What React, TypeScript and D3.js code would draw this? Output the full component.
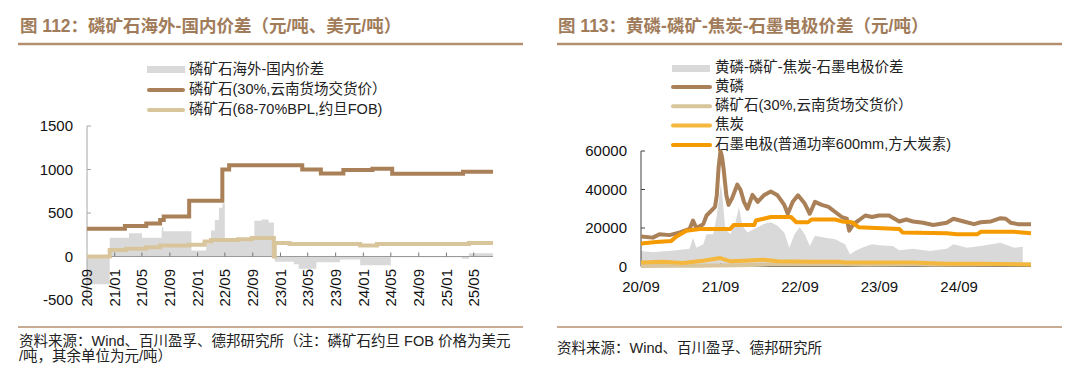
import React from "react";
import * as d3 from "d3";

type P = [string, number];

// ---------- Left chart data (图112) ----------
const leftDomestic: P[] = [
  ["2020-09-01", 320], ["2021-02-15", 350], ["2021-05-20", 380], ["2021-07-20", 420],
  ["2021-08-05", 460], ["2021-11-25", 640], ["2022-04-20", 1000], ["2022-05-20", 1050],
  ["2023-04-07", 1000], ["2023-06-28", 955], ["2023-10-05", 995], ["2024-02-10", 1010],
  ["2024-05-07", 950], ["2025-03-15", 975], ["2025-07-25", 975],
];
const leftJordanFOB: P[] = [
  ["2020-09-01", 0], ["2020-12-10", 75], ["2021-02-20", 88], ["2021-05-20", 107],
  ["2021-07-20", 126], ["2021-11-25", 134], ["2022-02-01", 172], ["2022-03-01", 191],
  ["2022-06-28", 198], ["2022-08-28", 214], ["2022-12-03", 0], ["2022-12-07", 156],
  ["2023-02-10", 145], ["2023-12-18", 126], ["2024-03-01", 145], ["2025-04-10", 156],
  ["2025-07-25", 156],
];
const leftSpread: P[] = [
  ["2020-09-01", -320], ["2020-12-10", 215], ["2021-03-05", 268], ["2021-05-01", 215],
  ["2021-07-27", 337], ["2021-08-03", 290], ["2021-12-05", 70], ["2022-02-08", 150],
  ["2022-03-01", 300], ["2022-03-18", 420], ["2022-04-05", 560], ["2022-04-20", 610],
  ["2022-05-01", 195], ["2022-09-08", 410], ["2022-10-10", 425], ["2022-11-10", 390],
  ["2022-12-03", -30], ["2022-12-07", -60], ["2023-03-01", -90], ["2023-03-22", -140],
  ["2023-06-08", -65], ["2023-09-20", -35], ["2023-12-18", -100], ["2024-05-01", -8],
  ["2025-03-10", -25], ["2025-04-10", 38], ["2025-07-25", 38],
];
const leftYTicks = [1500, 1000, 500, 0, -500];
const leftLegend = ["磷矿石海外-国内价差", "磷矿石(30%,云南货场交货价）", "磷矿石(68-70%BPL,约旦FOB)"];

// ---------- Right chart data (图113) ----------
const yellowPhosphorus: P[] = [
  ["2020-09-01", 15600], ["2020-10-25", 15000], ["2020-11-25", 16800], ["2021-01-10", 16300],
  ["2021-02-27", 17700], ["2021-04-12", 19500], ["2021-04-28", 23900], ["2021-05-13", 20000],
  ["2021-06-14", 22000], ["2021-06-29", 26500], ["2021-07-15", 28300], ["2021-08-07", 31000],
  ["2021-08-15", 37000], ["2021-08-23", 51000], ["2021-09-01", 60000], ["2021-09-08", 57000],
  ["2021-09-15", 51000], ["2021-09-28", 37000], ["2021-10-08", 32000], ["2021-10-24", 35400],
  ["2021-11-17", 42500], ["2021-12-02", 39800], ["2021-12-18", 33600], ["2022-01-03", 30000],
  ["2022-01-26", 37200], ["2022-02-19", 33600], ["2022-03-19", 37000], ["2022-04-20", 39000],
  ["2022-05-21", 37000], ["2022-06-21", 32000], ["2022-07-07", 27400], ["2022-07-30", 33600],
  ["2022-08-23", 37000], ["2022-09-23", 32700], ["2022-10-16", 27400], ["2022-11-09", 33600],
  ["2022-12-10", 32000], ["2023-01-10", 31000], ["2023-02-10", 28300], ["2023-03-12", 25700],
  ["2023-04-04", 24800], ["2023-04-15", 18600], ["2023-05-04", 22000], ["2023-05-28", 23900],
  ["2023-06-28", 26500], ["2023-07-29", 25700], ["2023-08-30", 26500], ["2023-10-15", 26500],
  ["2023-12-01", 23400], ["2024-01-02", 24400], ["2024-02-02", 23400], ["2024-03-19", 22700],
  ["2024-05-05", 21600], ["2024-07-06", 22700], ["2024-08-06", 24800], ["2024-09-22", 23400],
  ["2024-11-08", 22000], ["2024-12-09", 23000], ["2025-01-25", 23400], ["2025-03-10", 25100],
  ["2025-04-03", 24800], ["2025-04-27", 22700], ["2025-05-28", 22000], ["2025-07-28", 22000],
];
const graphiteElectrode: P[] = [
  ["2020-09-01", 12000], ["2020-11-10", 12700], ["2021-01-18", 13300], ["2021-02-11", 15600],
  ["2021-03-28", 18600], ["2021-05-29", 19500], ["2021-10-16", 19500], ["2021-11-01", 21600],
  ["2022-02-03", 21600], ["2022-02-11", 23900], ["2022-04-20", 25700], ["2022-07-22", 25700],
  ["2022-08-15", 23000], ["2022-10-08", 23000], ["2022-10-24", 24400], ["2023-02-10", 24400],
  ["2023-03-12", 23400], ["2023-04-27", 23000], ["2023-05-28", 20400], ["2023-12-01", 19500],
  ["2023-12-16", 17700], ["2024-07-06", 17300], ["2024-08-22", 16800], ["2024-11-24", 16800],
  ["2024-12-09", 18000], ["2025-05-12", 18000], ["2025-07-28", 17300],
];
const coke: P[] = [
  ["2020-09-01", 2100], ["2020-12-10", 2500], ["2021-03-12", 1800], ["2021-06-14", 3000],
  ["2021-08-31", 4400], ["2021-10-16", 2700], ["2021-12-18", 3000], ["2022-03-19", 3500],
  ["2022-05-21", 2700], ["2022-10-24", 2500], ["2023-02-26", 2500], ["2023-03-27", 2100],
  ["2024-02-02", 2100], ["2024-07-06", 1400], ["2024-12-09", 1400], ["2025-07-28", 1100],
];
const phosphateRock: P[] = [
  ["2020-09-01", 320], ["2021-02-15", 350], ["2021-05-20", 380], ["2021-08-05", 460],
  ["2021-11-25", 640], ["2022-04-20", 1000], ["2022-05-20", 1050], ["2023-04-07", 1000],
  ["2023-06-28", 955], ["2024-02-10", 1010], ["2024-05-07", 950], ["2025-03-15", 975],
  ["2025-07-28", 975],
];
const rightSpread: P[] = [
  ["2020-09-01", 8000], ["2020-10-25", 7400], ["2021-02-11", 8500], ["2021-04-12", 9200],
  ["2021-04-28", 15000], ["2021-05-13", 9700], ["2021-06-14", 11500], ["2021-06-29", 16800],
  ["2021-07-30", 16800], ["2021-08-15", 26500], ["2021-08-27", 37000], ["2021-09-03", 43000],
  ["2021-09-10", 36000], ["2021-09-23", 19500], ["2021-10-16", 16800], ["2021-11-09", 23000],
  ["2021-11-25", 31000], ["2021-12-10", 21200], ["2022-01-03", 17700], ["2022-02-19", 20400],
  ["2022-03-19", 22100], ["2022-04-20", 23000], ["2022-05-21", 21200], ["2022-06-21", 17700],
  ["2022-07-14", 9700], ["2022-08-07", 16800], ["2022-08-31", 20400], ["2022-09-23", 16800],
  ["2022-10-16", 10600], ["2022-11-09", 16000], ["2022-12-25", 15000], ["2023-02-10", 14200],
  ["2023-03-27", 11500], ["2023-04-19", 6200], ["2023-05-12", 8000], ["2023-06-13", 9700],
  ["2023-07-29", 11500], ["2023-08-30", 11000], ["2023-11-01", 10600], ["2023-12-01", 8500],
  ["2024-02-02", 9200], ["2024-04-19", 8000], ["2024-07-06", 9200], ["2024-08-06", 11500],
  ["2024-10-07", 9700], ["2024-12-09", 10600], ["2025-03-10", 12400], ["2025-05-12", 9700],
  ["2025-06-20", 10300],
];
const rightYTicks = [0, 20000, 40000, 60000];
const rightLegend = ["黄磷-磷矿-焦炭-石墨电极价差", "黄磷", "磷矿石(30%,云南货场交货价）", "焦炭", "石墨电极(普通功率600mm,方大炭素)"];

// ---------- styling ----------
const C_GRAY = "#d9d9d9";
const C_BROWN = "#a98058";
const C_TAN = "#d9c59c";
const C_COKE = "#f5b83f";
const C_GRAPH = "#f59a00";
const C_TITLE = "#a17c5b";
const C_RULE = "#b48f6f";
const FONT = "'Liberation Sans', Arial, 'Noto Sans CJK SC', sans-serif";

const parse = d3.timeParse("%Y-%m-%d");
const toPts = (a: P[]) => a.map(([d, v]) => ({ d: parse(d) as Date, v }));

export default function App() {
  // Left scales
  const lx = d3.scaleTime().domain([parse("2020-09-01")!, parse("2025-07-25")!]).range([87, 493]);
  const ly = d3.scaleLinear().domain([-500, 1500]).range([300, 126]);
  const lArea = d3.area<{ d: Date; v: number }>().x(p => lx(p.d)).y0(ly(0)).y1(p => ly(p.v)).curve(d3.curveStepAfter);
  const lLine = d3.line<{ d: Date; v: number }>().x(p => lx(p.d)).y(p => ly(p.v)).curve(d3.curveStepAfter);
  const lTicks = d3.timeMonth.every(4)!.range(parse("2020-09-01")!, parse("2025-07-02")!);
  const fmt = d3.timeFormat("%y/%m");

  // Right scales
  const rx = d3.scaleTime().domain([parse("2020-09-01")!, parse("2025-07-28")!]).range([641, 1031]);
  const ry = d3.scaleLinear().domain([0, 60000]).range([266.5, 151]);
  const rArea = d3.area<{ d: Date; v: number }>().x(p => rx(p.d)).y0(ry(0)).y1(p => ry(p.v));
  const rLine = d3.line<{ d: Date; v: number }>().x(p => rx(p.d)).y(p => ry(p.v));
  const rTicks = [0, 1, 2, 3, 4].map(i => d3.timeYear.offset(parse("2020-09-01")!, i));

  return (
    <svg width={1080} height={381} style={{ position: "absolute", left: 0, top: 0, background: "#fff" }} fontFamily={FONT}>
      <rect width={1080} height={381} fill="#fff" />
      {/* ===== Left panel ===== */}
      <text x={20} y={32} fontSize={17.5} fontWeight="bold" fill={C_TITLE}>图 112：磷矿石海外-国内价差（元/吨、美元/吨）</text>
      <line x1={18} x2={523} y1={44} y2={44} stroke={C_RULE} strokeWidth={2.5} />

      {/* legend */}
      <g fontSize={14.5} fill="#222">
        <rect x={147} y={66} width={38} height={7} fill={C_GRAY} />
        <text x={189} y={70} dominantBaseline="middle">{leftLegend[0]}</text>
        <line x1={149} x2={183} y1={90} y2={90} stroke={C_BROWN} strokeWidth={4} strokeLinecap="round" />
        <text x={189} y={90} dominantBaseline="middle">{leftLegend[1]}</text>
        <line x1={149} x2={183} y1={110} y2={110} stroke={C_TAN} strokeWidth={4} strokeLinecap="round" />
        <text x={189} y={110} dominantBaseline="middle">{leftLegend[2]}</text>
      </g>

      <path d={lArea(toPts(leftSpread)) || ""} fill={C_GRAY} />
      {/* axes */}
      <line x1={87} x2={87} y1={ly(1500)} y2={ly(-500)} stroke="#a6a6a6" strokeWidth={1} />
      {leftYTicks.map(t => (
        <g key={t}>
          <line x1={87} x2={91} y1={ly(t)} y2={ly(t)} stroke="#a6a6a6" />
          <text x={73} y={ly(t)} dy="0.35em" textAnchor="end" fontSize={15} fill="#111">{t}</text>
        </g>
      ))}
      <line x1={87} x2={493} y1={ly(0)} y2={ly(0)} stroke="#9a9a9a" strokeWidth={1} />
      {lTicks.map((t, i) => (
        <g key={i}>
          {i > 0 && <line x1={lx(t)} x2={lx(t)} y1={ly(0)} y2={ly(0) - 4} stroke="#777" />}
          <text transform={`translate(${lx(t)},269) rotate(-90)`} dy="0.35em" textAnchor="end" fontSize={15} fill="#111">{fmt(t)}</text>
        </g>
      ))}
      <path d={lLine(toPts(leftDomestic)) || ""} fill="none" stroke={C_BROWN} strokeWidth={4} />
      <path d={lLine(toPts(leftJordanFOB)) || ""} fill="none" stroke={C_TAN} strokeWidth={4} />

      <line x1={18} x2={523} y1={327} y2={327} stroke={C_RULE} strokeWidth={1.5} />
      <text x={19} y={346} fontSize={14.5} fill="#222">资料来源：Wind、百川盈孚、德邦研究所（注：磷矿石约旦 FOB 价格为美元</text>
      <text x={19} y={361} fontSize={14.5} fill="#222">/吨，其余单位为元/吨）</text>

      {/* ===== Right panel ===== */}
      <text x={558} y={32} fontSize={17.5} fontWeight="bold" fill={C_TITLE}>图 113：黄磷-磷矿-焦炭-石墨电极价差（元/吨）</text>
      <line x1={557} x2={1062} y1={44} y2={44} stroke={C_RULE} strokeWidth={2.5} />

      <g fontSize={14.5} fill="#222">
        <rect x={672} y={65} width={38} height={7} fill={C_GRAY} />
        <text x={715} y={68} dominantBaseline="middle">{rightLegend[0]}</text>
        {[C_BROWN, C_TAN, C_COKE, C_GRAPH].map((c, i) => (
          <g key={i}>
            <line x1={673} x2={710} y1={87 + i * 19.3} y2={87 + i * 19.3} stroke={c} strokeWidth={4} strokeLinecap="round" />
            <text x={715} y={87 + i * 19.3} dominantBaseline="middle">{rightLegend[i + 1]}</text>
          </g>
        ))}
      </g>

      <path d={rArea(toPts(rightSpread)) || ""} fill={C_GRAY} />
      <line x1={641} x2={641} y1={ry(60000)} y2={ry(0)} stroke="#404040" />
      {rightYTicks.map(t => (
        <g key={t}>
          <line x1={641} x2={645} y1={ry(t)} y2={ry(t)} stroke="#404040" />
          <text x={627} y={ry(t)} dy="0.35em" textAnchor="end" fontSize={15} fill="#111">{t}</text>
        </g>
      ))}
      <line x1={641} x2={1031} y1={ry(0)} y2={ry(0)} stroke="#404040" />
      {rTicks.map((t, i) => (
        <g key={i}>
          {i > 0 && <line x1={rx(t)} x2={rx(t)} y1={ry(0)} y2={ry(0) - 3} stroke="#404040" />}
          <text x={rx(t)} y={292} textAnchor="middle" fontSize={15} fill="#111">{fmt(t)}</text>
        </g>
      ))}
      <path d={rLine(toPts(yellowPhosphorus)) || ""} fill="none" stroke={C_BROWN} strokeWidth={4} strokeLinejoin="round" />
      <path d={rLine(toPts(phosphateRock)) || ""} fill="none" stroke={C_TAN} strokeWidth={4} />
      <path d={rLine(toPts(coke)) || ""} fill="none" stroke={C_COKE} strokeWidth={4} strokeLinejoin="round" />
      <path d={rLine(toPts(graphiteElectrode)) || ""} fill="none" stroke={C_GRAPH} strokeWidth={4} strokeLinejoin="round" />

      <line x1={557} x2={1062} y1={327} y2={327} stroke={C_RULE} strokeWidth={1.5} />
      <text x={557} y={353} fontSize={14.5} fill="#222">资料来源：Wind、百川盈孚、德邦研究所</text>
    </svg>
  );
}
